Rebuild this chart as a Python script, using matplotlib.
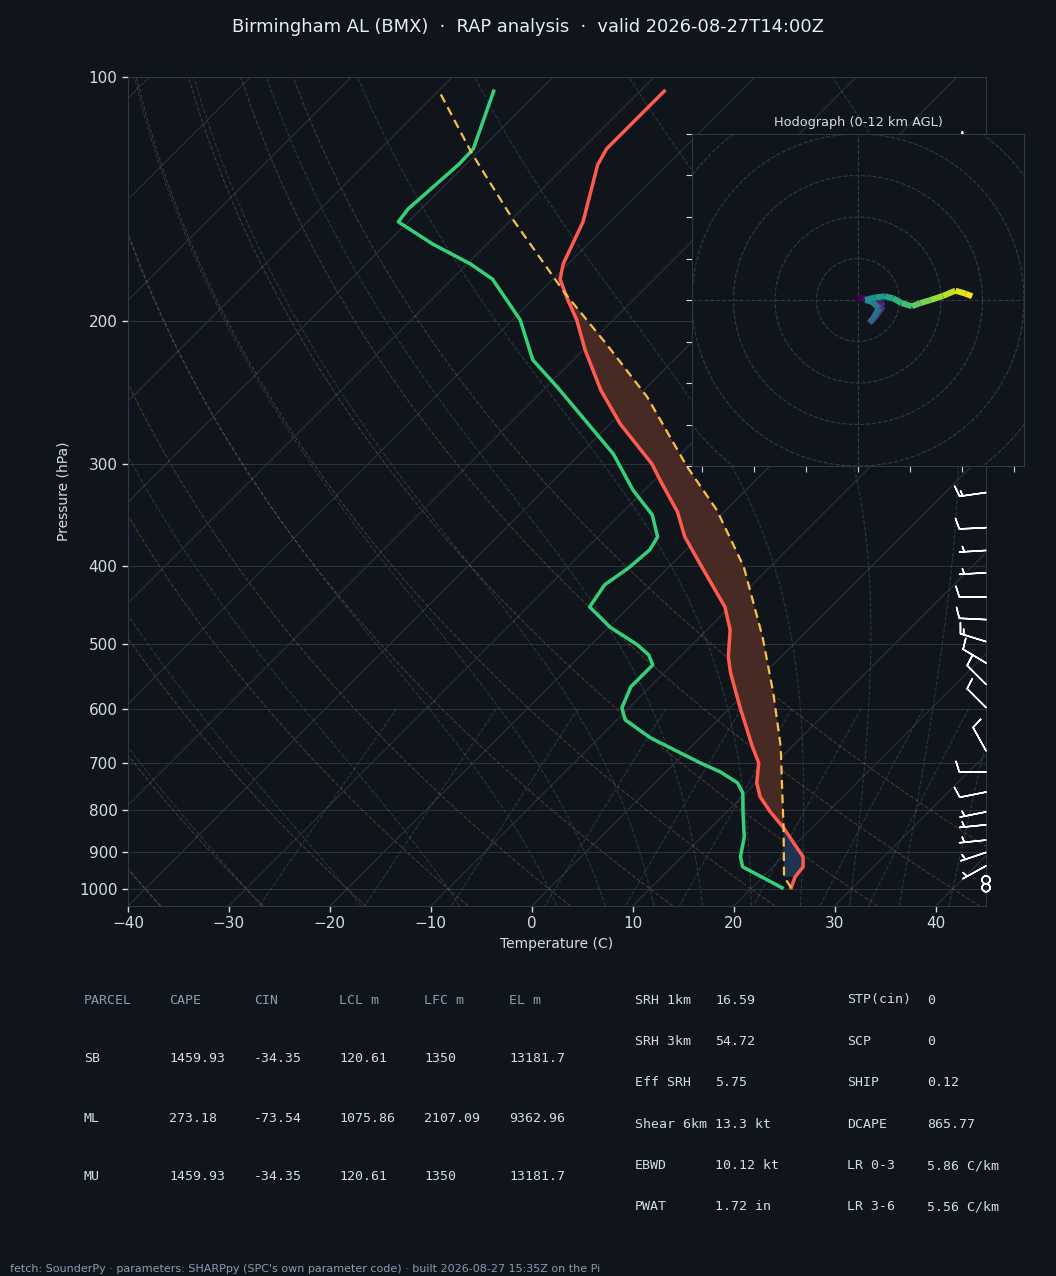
import numpy as np
import matplotlib
matplotlib.use("Agg")
import matplotlib.pyplot as plt
import matplotlib.transforms as mtransforms
from matplotlib.collections import LineCollection
from matplotlib.ticker import FixedLocator, NullLocator, FixedFormatter

BG = "#10151c"
FG = "#d5dce4"
MUTED = "#8b9bb0"
GRID = "#29313c"
SPINE = "#2e3846"

W, H = 1056, 1276

# --- sounding ---------------------------------------------------------------
t_pres = [997.2, 966.6, 939.5, 913.2, 882.6, 841.1, 803.9, 770.3, 740.6, 699.6,
          668.6, 597.0, 542.0, 518.1, 479.8, 449.5, 404.6, 368.6, 343.4, 313.6,
          299.6, 267.5, 242.9, 216.9, 199.2, 187.7, 177.4, 169.9, 150.8, 128.3,
          122.6, 104.1]
t_degc = [23.9, 23.2, 23.0, 22.0, 20.0, 17.2, 14.3, 11.8, 10.1, 8.3,
          6.1, 0.9, -3.4, -5.2, -7.7, -10.5, -16.3, -21.4, -24.6, -29.5,
          -31.9, -39.0, -44.3, -49.8, -53.6, -56.6, -59.3, -60.5, -62.7, -66.9,
          -67.6, -67.6]

td_pres = [997.2, 939.5, 913.2, 862.9, 806.2, 761.8, 740.6, 717.8, 699.6, 651.7,
           619.2, 598.5, 564.0, 529.8, 515.0, 500.6, 475.9, 449.5, 422.3, 402.4,
           382.3, 368.6, 346.3, 322.6, 291.3, 272.0, 240.9, 223.1, 199.2, 177.4,
           169.9, 160.6, 150.8, 145.4, 128.0, 122.6, 104.1]
td_degc = [23.0, 17.0, 15.8, 14.2, 11.7, 9.7, 8.2, 5.4, 2.5, -4.9,
           -9.2, -10.7, -11.9, -11.9, -13.3, -15.4, -19.9, -23.9, -24.6, -23.9,
           -23.6, -24.1, -26.8, -31.2, -36.7, -41.1, -48.9, -54.0, -59.2, -66.0,
           -69.7, -75.4, -81.0, -81.3, -80.7, -80.8, -84.5]

pcl_pres = [997.2, 975.0, 966.6, 841.1, 755.3, 668.6, 573.5, 489.4, 401.2, 341.5,
            302.2, 247.8, 213.2, 185.0, 150.0, 124.4, 104.3]
pcl_degc = [23.9, 22.6, 22.1, 17.2, 13.3, 8.9, 2.8, -3.8, -12.6, -20.9,
            -28.1, -39.0, -48.3, -57.3, -69.8, -80.4, -89.8]
lfc_p, el_p, cin_bot_p = 841.1, 185.0, 966.6

# wind barbs (kt)
barb_pres = [120, 140, 160, 185, 210, 240, 270, 325, 359, 383, 408, 437, 466, 496,
             527, 560, 598, 676, 718, 760, 804, 834, 871, 902, 937, 975, 997]
barb_u = [55, 50, 45, 35, 28, 25, 20, 14, 10, 5, 5, 10, 10, 13,
          10, 8, 7, 5, 10, 10, 5, 5, 5, 4.5, 4.5, 0.5, 0.3]
barb_v = [2, 4, 3, 0, -2, -3, -1, 2, 0.5, 0.3, 0.3, 0, -0.5, -4,
          -6, -8, -7, -9, 0, 2, 1, 0.5, 0.5, 1.5, 2.5, 0.5, 0.3]

# hodograph path (kt) vs height (km AGL)
hodo_z = [0, 0.4, 0.8, 1.2, 1.6, 2.0, 2.4, 2.8, 3.2, 3.6, 4.2, 4.8, 5.4, 6.0,
          6.6, 7.2, 7.8, 8.4, 9.0, 9.6, 10.2, 10.8, 11.4, 11.8, 12]
hodo_u = [-0.5, 2, 5, 8, 11, 12, 10, 7.5, 6, 5.5, 7.5, 10, 7, 3.5, 8, 13, 17,
          21, 26, 30, 35, 41, 47, 52, 55]
hodo_v = [1.2, 0.8, 0.4, 0, -1.5, -3, -6, -9, -10.5, -11, -8.5, -4, -1, 0, 1.2,
          1.8, 0.8, -1.5, -3, -1.5, 0, 2, 4.5, 3, 1.8]

parcel_rows = ["SB", "ML", "MU"]
cape = [1459.93, 273.18, 1459.93]
cin = [-34.35, -73.54, -34.35]
lcl_m = [120.61, 1075.86, 120.61]
lfc_m = [1350, 2107.09, 1350]
el_m = [13181.7, 9362.96, 13181.7]

idx_left = [("SRH 1km", "16.59"), ("SRH 3km", "54.72"), ("Eff SRH", "5.75"),
            ("Shear 6km", "13.3 kt"), ("EBWD", "10.12 kt"), ("PWAT", "1.72 in")]
idx_right = [("STP(cin)", "0"), ("SCP", "0"), ("SHIP", "0.12"),
             ("DCAPE", "865.77"), ("LR 0-3", "5.86 C/km"), ("LR 3-6", "5.56 C/km")]

# --- thermodynamics for the background lines --------------------------------
RD, CP, LV, EPS = 287.04749, 1004.666, 2.50084e6, 0.621957
P_BOT, P_TOP = 1050.0, 100.0
T_MIN, T_MAX = -40.0, 45.0

AX_L, AX_R, AX_T, AX_B = 128, 986, 77, 906
SKEW = (T_MAX - T_MIN) * (AX_B - AX_T) / (AX_R - AX_L)   # 45 deg on screen


def skx(t, p):
    p = np.asarray(p, float)
    off = SKEW * np.log(P_BOT / p) / np.log(P_BOT / P_TOP)
    t = np.asarray(t, float)
    if t.ndim == 2:
        off = off[:, None]
    return t + off


def moist_lapse(t0c, pres_lo, pres_hi):
    def f(p, tk):
        es = 6.112 * np.exp(17.67 * (tk - 273.15) / (tk - 29.65))
        rs = EPS * es / (p - es)
        return (RD * tk + LV * rs) / (CP + LV * LV * rs * EPS / (RD * tk * tk)) / p

    parts = []
    for seg in (np.linspace(1000, pres_lo, 15), np.linspace(1000, pres_hi, 300)):
        tk = np.asarray(t0c, float) + 273.15
        res = [tk.copy()]
        for p1, p2 in zip(seg[:-1], seg[1:]):
            h = p2 - p1
            k1 = f(p1, tk)
            k2 = f(p1 + h / 2, tk + h / 2 * k1)
            k3 = f(p1 + h / 2, tk + h / 2 * k2)
            k4 = f(p2, tk + h * k3)
            tk = tk + h / 6 * (k1 + 2 * k2 + 2 * k3 + k4)
            res.append(tk.copy())
        parts.append((seg, np.array(res)))
    (pd, td), (pu, tu) = parts
    p = np.concatenate([pd[::-1], pu[1:]])
    t = np.concatenate([td[::-1], tu[1:]]) - 273.15
    return p, t


def px(x, y):
    return x / W, 1 - y / H


# --- figure -----------------------------------------------------------------
fig = plt.figure(figsize=(W / 100, H / 100), dpi=100, facecolor=BG)

l, b = px(AX_L, AX_B)
ax = fig.add_axes([l, b, (AX_R - AX_L) / W, (AX_B - AX_T) / H], facecolor=BG)
ax.set_yscale("log")
ax.set_xlim(T_MIN, T_MAX)
ax.set_ylim(P_BOT, P_TOP)

pfull = np.linspace(P_BOT, P_TOP, 80)

# isotherms
for t in np.arange(-130, 50, 10):
    ax.plot(skx(np.full_like(pfull, t), pfull), pfull, color=GRID, lw=0.8, zorder=1)

# isobars
for p in range(100, 1001, 100):
    ax.axhline(p, color=GRID, lw=0.8, zorder=1)

# dry adiabats
t0 = np.arange(-40, 51, 10)
dry = (t0[None, :] + 273.15) * (pfull[:, None] / 1000.0) ** (RD / CP) - 273.15
ax.plot(skx(dry, pfull), pfull, color="#c8884a", alpha=0.3, lw=0.8, ls="--", zorder=2)

# moist adiabats
t0m = np.concatenate([np.arange(-40, 0, 10), np.arange(0, 46, 5)])
pm, tm = moist_lapse(t0m, P_BOT, P_TOP)
ax.plot(skx(tm, pm), pm, color="#5a7a96", alpha=0.32, lw=0.8, ls="--", zorder=2)

# mixing ratio lines
w = np.array([0.0004, 0.001, 0.002, 0.004, 0.007, 0.01, 0.016, 0.024, 0.032])
pmix = np.linspace(600, P_BOT, 40)
e = pmix[:, None] * w[None, :] / (EPS + w[None, :])
lg = np.log(e / 6.112)
tdm = 243.5 * lg / (17.67 - lg)
ax.plot(skx(tdm, pmix), pmix, color="#5a7a96", alpha=0.32, lw=0.8, ls="--", zorder=2)

# CAPE / CIN shading
tp, tt = np.array(t_pres), np.array(t_degc)
pp, pt = np.array(pcl_pres), np.array(pcl_degc)
m_p = (pp <= lfc_p) & (pp >= el_p)
m_t = (tp <= lfc_p) & (tp > el_p)
poly_p = np.concatenate([pp[m_p], tp[m_t][::-1]])
poly_t = np.concatenate([pt[m_p], tt[m_t][::-1]])
ax.fill(skx(poly_t, poly_p), poly_p, color="#4b2c25", alpha=0.95, lw=0, zorder=3)

m_p = (pp >= lfc_p) & (pp <= cin_bot_p)
m_t = (tp > lfc_p) & (tp <= cin_bot_p)
poly_p = np.concatenate([pp[m_p][::-1], tp[m_t]])
poly_t = np.concatenate([pt[m_p][::-1], tt[m_t]])
ax.fill(skx(poly_t, poly_p), poly_p, color="#1f3554", alpha=0.95, lw=0, zorder=3)

# profiles
ax.plot(skx(td_degc, td_pres), td_pres, color="#34d17a", lw=2.5, zorder=5,
        solid_joinstyle="round")
ax.plot(skx(t_degc, t_pres), t_pres, color="#ff5a4f", lw=2.5, zorder=5,
        solid_joinstyle="round")
ax.plot(skx(pcl_degc, pcl_pres), pcl_pres, color="#f7c04a", lw=1.6, ls=(0, (4, 2.5)),
        zorder=6)

# barbs on the right edge
btrans = mtransforms.blended_transform_factory(ax.transAxes, ax.transData)
ax.barbs(np.ones(len(barb_pres)), barb_pres, barb_u, barb_v, transform=btrans,
         length=6.2, color="white", lw=1.1, clip_on=False, zorder=7)

ax.yaxis.set_major_locator(FixedLocator(range(100, 1001, 100)))
ax.yaxis.set_major_formatter(FixedFormatter([str(p) for p in range(100, 1001, 100)]))
ax.yaxis.set_minor_locator(NullLocator())
ax.set_xticks(np.arange(-40, 41, 10))
ax.tick_params(colors=FG, labelsize=11, length=4, width=1)
for s in ax.spines.values():
    s.set_color(SPINE)
ax.set_xlabel("Temperature (C)", color=FG, fontsize=10, labelpad=4)
ax.set_ylabel("Pressure (hPa)", color=FG, fontsize=10, labelpad=6)

# --- hodograph inset --------------------------------------------------------
hl, hb = px(692, 466)
hax = fig.add_axes([hl, hb, 332 / W, 332 / H], facecolor=BG)
hax.set_xlim(-80, 80)
hax.set_ylim(-80, 80)
ang = np.linspace(0, 2 * np.pi, 200)
for r in range(20, 101, 20):
    hax.plot(r * np.cos(ang), r * np.sin(ang), color="#2f3b4a", lw=0.8, ls="--")
hax.axhline(0, color="#2f3b4a", lw=0.8, ls="--")
hax.axvline(0, color="#2f3b4a", lw=0.8, ls="--")
pts = np.column_stack([hodo_u, hodo_v]).reshape(-1, 1, 2)
segs = np.concatenate([pts[:-1], pts[1:]], axis=1)
lc = LineCollection(segs, cmap="viridis", norm=plt.Normalize(0, 12), lw=4.3,
                    capstyle="butt")
lc.set_array(np.array(hodo_z[:-1]))
hax.add_collection(lc)
hax.set_xticks(np.arange(-75, 76, 25))
hax.set_yticks(np.arange(-80, 81, 20))
hax.tick_params(colors=FG, labelbottom=False, labelleft=False, length=4)
for s in hax.spines.values():
    s.set_color(SPINE)
hax.set_title("Hodograph (0-12 km AGL)", color=FG, fontsize=9.3, pad=6)

# --- text -------------------------------------------------------------------
fig.text(*px(528, 27), "Birmingham AL (BMX)  \u00b7  RAP analysis  \u00b7  valid 2026-08-27T14:00Z",
         ha="center", va="center", color="#e6edf3", fontsize=12.9)

mono = dict(family="DejaVu Sans Mono", fontsize=9.5, va="center")
cols_x = [84, 169, 254, 339, 424, 509]
for x, h in zip(cols_x, ["PARCEL", "CAPE", "CIN", "LCL m", "LFC m", "EL m"]):
    fig.text(*px(x, 1000), h, color=MUTED, **mono)
for i, name in enumerate(parcel_rows):
    y = 1059 + 59 * i
    vals = [name] + [f"{v:g}" for v in (cape[i], cin[i], lcl_m[i], lfc_m[i], el_m[i])]
    for x, v in zip(cols_x, vals):
        fig.text(*px(x, y), v, color=FG, **mono)

for i, ((k1, v1), (k2, v2)) in enumerate(zip(idx_left, idx_right)):
    y = 1000 + 41.4 * i
    fig.text(*px(635, y), k1, color=FG, **mono)
    fig.text(*px(715, y), v1, color=FG, **mono)
    fig.text(*px(847, y), k2, color=FG, **mono)
    fig.text(*px(927, y), v2, color=FG, **mono)

fig.text(*px(10, 1269), "fetch: SounderPy \u00b7 parameters: SHARPpy (SPC's own parameter code) "
         "\u00b7 built 2026-08-27 15:35Z on the Pi", color=MUTED, fontsize=8, va="center")

fig.savefig("out.png", dpi=100, facecolor=BG)
